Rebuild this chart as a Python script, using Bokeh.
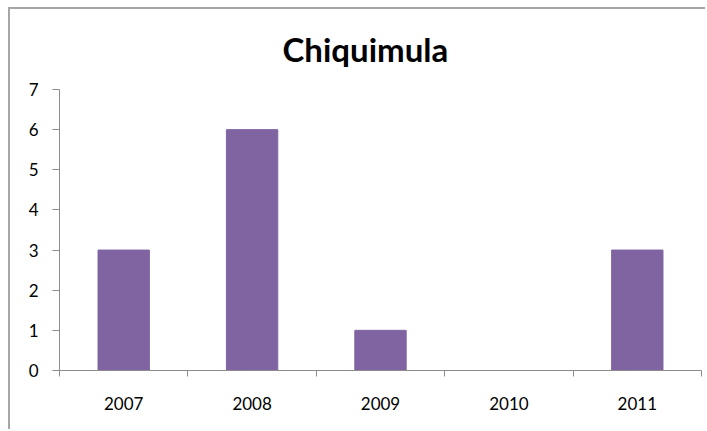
from bokeh.plotting import figure
from bokeh.models import Range1d, FixedTicker, ColumnDataSource
from bokeh.embed import file_html
from bokeh.resources import INLINE

title_text = "Chiquimula"
years = ["2007", "2008", "2009", "2010", "2011"]
counts = [3, 6, 1, 0, 3]
y_ticks = [0, 1, 2, 3, 4, 5, 6, 7]

FONT = "Lato"
AXIS_COLOR = "#8c8c8c"

xs = [i + 0.5 for i in range(len(years))]
src = ColumnDataSource(dict(x=xs, top=counts, year=years))

p = figure(width=697, height=422, output_backend="svg", toolbar_location=None,
           x_range=Range1d(0, len(years)), y_range=Range1d(0, 7),
           min_border_left=49, min_border_right=6, min_border_top=80, min_border_bottom=61,
           title=title_text)
p.styles = {"margin-left": "8px", "margin-top": "7px",
            "border-top": "2px solid #a6a6a6", "border-left": "2px solid #a6a6a6"}

p.vbar(x="x", top="top", width=0.4, source=src, color="#8064A2")

p.title.align = "left"
p.title.vertical_align = "top"
p.title.text_font = FONT
p.title.text_font_size = "33px"
p.title.text_font_style = "bold"
p.title.text_color = "#000000"
p.title.offset = 223
p.title.standoff = 38

p.xgrid.visible = False
p.ygrid.visible = False
p.outline_line_color = None

xa = p.xaxis[0]
xa.ticker = FixedTicker(ticks=xs, minor_ticks=list(range(len(years) + 1)))
xa.major_label_overrides = {x: y for x, y in zip(xs, years)}
xa.major_tick_out = 0
xa.major_tick_in = 0
xa.minor_tick_out = 6
xa.minor_tick_in = 0
xa.minor_tick_line_color = AXIS_COLOR
xa.axis_line_color = AXIS_COLOR
xa.major_label_standoff = 20
xa.major_label_text_font = FONT
xa.major_label_text_font_size = "17px"
xa.major_label_text_color = "#000000"

ya = p.yaxis[0]
ya.ticker = FixedTicker(ticks=y_ticks)
ya.major_tick_out = 7
ya.major_tick_in = 0
ya.minor_tick_out = 0
ya.minor_tick_in = 0
ya.major_tick_line_color = AXIS_COLOR
ya.axis_line_color = AXIS_COLOR
ya.major_label_standoff = 14
ya.major_label_text_font = FONT
ya.major_label_text_font_size = "17px"
ya.major_label_text_color = "#000000"

open("out.html", "w").write(file_html(p, INLINE))
